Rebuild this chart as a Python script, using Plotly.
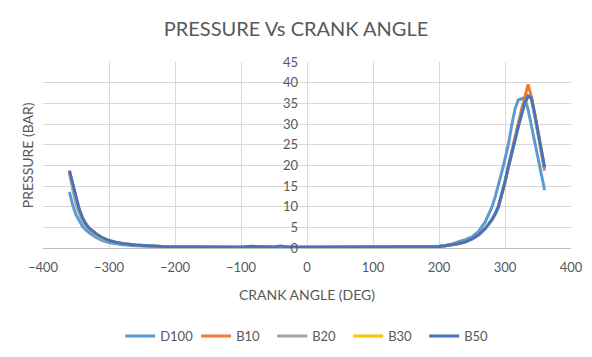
import plotly.graph_objects as go

# Crank angle (deg)
angle = [-360, -355, -350, -345, -340, -335, -330, -320, -310, -300, -290, -280,
         -260, -240, -220, -200, -150, -100, -85, -50, -40, -30, 0, 50, 100, 150,
         200, 210, 220, 230, 240, 250, 260, 270, 280, 285, 290, 295, 300, 305,
         310, 315, 320, 325, 330, 335, 340, 345, 350, 355, 360]

d100 = [13.6, 10.4, 8.0, 6.4, 5.2, 4.4, 3.7, 2.6, 1.8, 1.3, 1.0, 0.8,
        0.55, 0.4, 0.3, 0.25, 0.2, 0.2, 0.2, 0.2, 0.2, 0.2, 0.2, 0.2, 0.2, 0.2,
        0.4, 0.7, 1.0, 1.5, 2.0, 2.7, 4.0, 6.3, 9.8, 12.3, 15.0, 18.3, 21.5, 25.0,
        29.5, 33.5, 35.8, 36.1, 36.4, 33.5, 29.5, 25.3, 21.2, 17.5, 14.0]

b10 = [18.5, 15.4, 11.8, 9.1, 7.1, 5.7, 4.7, 3.4, 2.4, 1.8, 1.4, 1.1,
       0.75, 0.5, 0.35, 0.3, 0.2, 0.2, 0.2, 0.2, 0.2, 0.2, 0.2, 0.2, 0.2, 0.2,
       0.35, 0.55, 0.8, 1.1, 1.5, 2.2, 3.2, 4.7, 6.8, 8.2, 10.0, 12.8, 16.0, 19.8,
       23.3, 27.0, 30.0, 33.5, 36.5, 39.6, 36.5, 32.0, 27.5, 23.0, 18.7]

b20 = [18.0, 14.2, 10.6, 8.3, 6.6, 5.4, 4.5, 3.2, 2.2, 1.6, 1.2, 1.0,
       0.7, 0.45, 0.35, 0.3, 0.2, 0.2, 0.2, 0.2, 0.2, 0.2, 0.2, 0.2, 0.2, 0.2,
       0.35, 0.55, 0.8, 1.1, 1.5, 2.2, 3.2, 4.7, 6.8, 8.2, 10.0, 12.8, 16.0, 19.5,
       23.0, 26.3, 29.3, 32.3, 35.0, 36.6, 36.1, 32.3, 28.0, 23.3, 19.2]

b30 = [18.6, 15.5, 11.9, 9.2, 7.2, 5.8, 4.8, 3.4, 2.4, 1.8, 1.4, 1.1,
       0.75, 0.5, 0.35, 0.3, 0.2, 0.2, 0.2, 0.2, 0.2, 0.2, 0.2, 0.2, 0.2, 0.2,
       0.35, 0.55, 0.8, 1.1, 1.5, 2.2, 3.2, 4.7, 6.8, 8.2, 10.0, 12.8, 16.0, 19.5,
       23.0, 26.3, 29.3, 32.3, 35.1, 36.7, 36.2, 32.4, 28.2, 23.4, 19.4]

b50 = [18.7, 15.6, 12.0, 9.3, 7.3, 5.8, 4.8, 3.5, 2.5, 1.8, 1.4, 1.1,
       0.75, 0.5, 0.35, 0.3, 0.2, 0.2, 0.4, 0.25, 0.5, 0.25, 0.2, 0.2, 0.2, 0.2,
       0.35, 0.55, 0.8, 1.1, 1.5, 2.2, 3.2, 4.7, 6.8, 8.2, 10.0, 12.8, 16.0, 19.5,
       23.0, 26.3, 29.3, 32.3, 35.2, 36.8, 36.3, 32.5, 28.3, 23.5, 19.5]

series_names = ["D100", "B10", "B20", "B30", "B50"]
series_values = [d100, b10, b20, b30, b50]
colors = ["#5B9BD5", "#ED7D31", "#A5A5A5", "#FFC000", "#4472C4"]

x_ticks = [-400, -300, -200, -100, 0, 100, 200, 300, 400]
y_ticks = [0, 5, 10, 15, 20, 25, 30, 35, 40, 45]

FONT = "Lato"
GREY = "#595959"

fig = go.Figure()
for name, vals, col in zip(series_names, series_values, colors):
    fig.add_trace(go.Scatter(x=angle, y=vals, mode="lines", name=name,
                             line=dict(color=col, width=3)))

fig.update_layout(
    width=592, height=357,
    margin=dict(l=43, r=21, t=62, b=109, autoexpand=False),
    paper_bgcolor="white", plot_bgcolor="white",
    font=dict(family=FONT, color=GREY, size=13),
    title=dict(text="PRESSURE Vs CRANK ANGLE", x=0.5, xanchor="center",
               y=0.92, yanchor="middle",
               font=dict(family=FONT, size=20, color=GREY)),
    xaxis=dict(range=[-400, 400], tickvals=x_ticks, showgrid=True,
               gridcolor="#D9D9D9", gridwidth=1, zeroline=False,
               showline=True, linecolor="#BFBFBF", linewidth=1,
               automargin=False, ticklabelstandoff=7,
               tickfont=dict(size=13, color=GREY),
               title=dict(text="CRANK ANGLE (DEG)", standoff=16,
                          font=dict(size=14, color=GREY))),
    yaxis=dict(range=[0, 45], tickvals=y_ticks, showgrid=True,
               gridcolor="#D9D9D9", gridwidth=1, zeroline=False,
               anchor="free", position=0.5, showline=False,
               automargin=False, ticklabelstandoff=9,
               tickfont=dict(size=13, color=GREY)),
    legend=dict(orientation="h", x=0.506, xanchor="center", y=-0.473,
                yanchor="middle", font=dict(size=13, color=GREY),
                itemwidth=30, entrywidth=31),
    annotations=[dict(text="PRESSURE (BAR)", xref="paper", yref="paper",
                      x=-0.01, y=0.5, xanchor="right", yanchor="middle",
                      textangle=-90, showarrow=False,
                      font=dict(size=14, color=GREY))],
)

fig.write_html("out.html", config={"displayModeBar": False},
               post_script="document.body.style.margin='0';document.body.style.padding='0';")
